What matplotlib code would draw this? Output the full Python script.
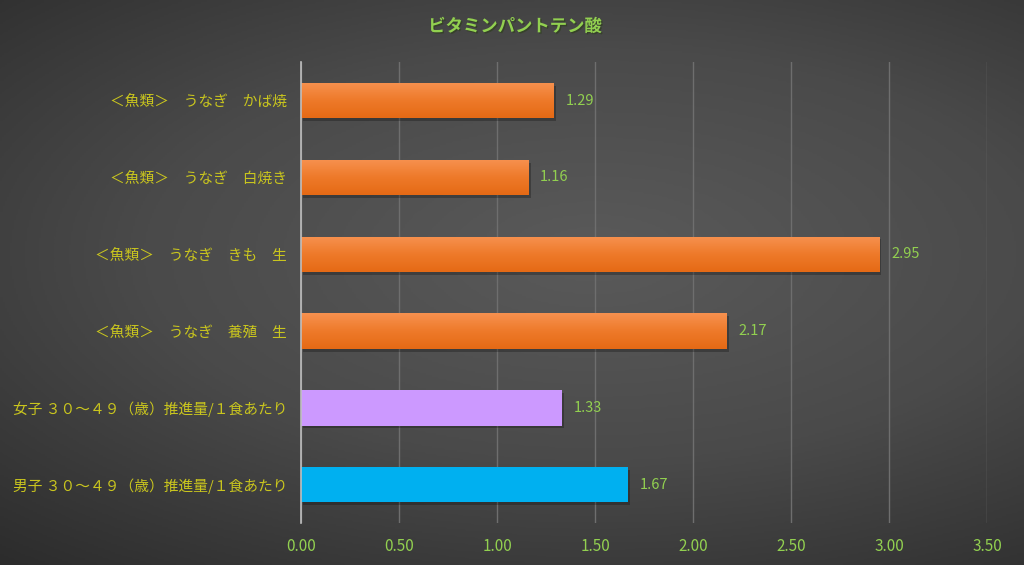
import numpy as np
import matplotlib
matplotlib.use("Agg")
import matplotlib.pyplot as plt
import matplotlib.patheffects as pe
from matplotlib.colors import LinearSegmentedColormap

plt.rcParams['font.family'] = ['Noto Sans CJK JP', 'DejaVu Sans']

# ---------- datos ----------
title = "ビタミンパントテン酸"
labels = [
    "＜魚類＞　うなぎ　かば焼",
    "＜魚類＞　うなぎ　白焼き",
    "＜魚類＞　うなぎ　きも　生",
    "＜魚類＞　うなぎ　養殖　生",
    "女子 ３０～４９（歳）推進量/１食あたり",
    "男子 ３０～４９（歳）推進量/１食あたり",
]
values = [1.29, 1.16, 2.95, 2.17, 1.33, 1.67]
kinds = ["fish", "fish", "fish", "fish", "female", "male"]
xticks = [0.0, 0.5, 1.0, 1.5, 2.0, 2.5, 3.0, 3.5]

# ---------- colores ----------
C_LABEL = "#C9C51E"
C_GREEN = "#92D050"
C_GRID = "#6E6E6E"
C_FEMALE = "#CC99FF"
C_MALE = "#00B0F0"
orange_cmap = LinearSegmentedColormap.from_list("og", ["#F7914F", "#EE7A2A", "#E56A15"])

fig = plt.figure(figsize=(10.24, 5.65), dpi=100)

# fondo degradado radial
bg = fig.add_axes([0, 0, 1, 1], zorder=-10)
yy, xx = np.mgrid[0:1:300j, 0:1:500j]
r = np.sqrt(((xx - 0.58) / 0.9) ** 2 + ((yy - 0.45) / 0.75) ** 2)
bg_cmap = LinearSegmentedColormap.from_list("bg", ["#5A5A5A", "#4A4A4A", "#2C2C2C"])
bg.imshow(np.clip(r, 0, 1), cmap=bg_cmap, aspect="auto", extent=[0, 1, 0, 1], origin="upper")
bg.axis("off")

ax = fig.add_axes([0.294, 0.074, 0.670, 0.816])
ax.set_facecolor("none")

y = np.arange(len(values))
h = 0.46
shadow = [pe.SimplePatchShadow(offset=(1.5, -2), shadow_rgbFace="black", alpha=0.25), pe.Normal()]
for yi, v, k in zip(y, values, kinds):
    if k == "fish":
        bar = ax.barh(yi, v, height=h, color="#EE7A2A", zorder=3, path_effects=shadow)[0]
        grad = np.linspace(0, 1, 50).reshape(-1, 1)
        im = ax.imshow(grad, cmap=orange_cmap, aspect="auto", zorder=4,
                       extent=[0, v, yi + h / 2, yi - h / 2], origin="upper")
        im.set_clip_path(bar)
    else:
        c = C_FEMALE if k == "female" else C_MALE
        ax.barh(yi, v, height=h, color=c, zorder=3, path_effects=shadow)
    ax.text(v + 0.06, yi, f"{v:.2f}", color=C_GREEN, fontsize=10.5, va="center", ha="left")

ax.set_xlim(0, 3.5)
ax.set_ylim(len(values) - 0.5, -0.5)
ax.set_xticks(xticks)
ax.set_xticklabels([f"{t:.2f}" for t in xticks])
ax.set_yticks(y)
ax.set_yticklabels(labels)
ax.tick_params(axis="x", colors=C_GREEN, labelsize=11, length=0, pad=11)
ax.tick_params(axis="y", colors=C_LABEL, labelsize=10.6, length=0, pad=10)
for lab in ax.get_xticklabels():
    lab.set_color(C_GREEN)
for lab in ax.get_yticklabels():
    lab.set_color(C_LABEL)

ax.grid(True, axis="x", color=C_GRID, linewidth=1.0, zorder=0)
for s in ("top", "right", "bottom"):
    ax.spines[s].set_visible(False)
ax.spines["left"].set_color("#BFBFBF")
ax.spines["left"].set_linewidth(1.2)
ax.spines["left"].set_zorder(5)

fig.text(0.503, 0.953, title, color=C_GREEN, fontsize=12.5, fontweight="bold",
         ha="center", va="center",
         path_effects=[pe.withSimplePatchShadow(offset=(1, -1), alpha=0.6)])

fig.savefig("out.png", dpi=100)
